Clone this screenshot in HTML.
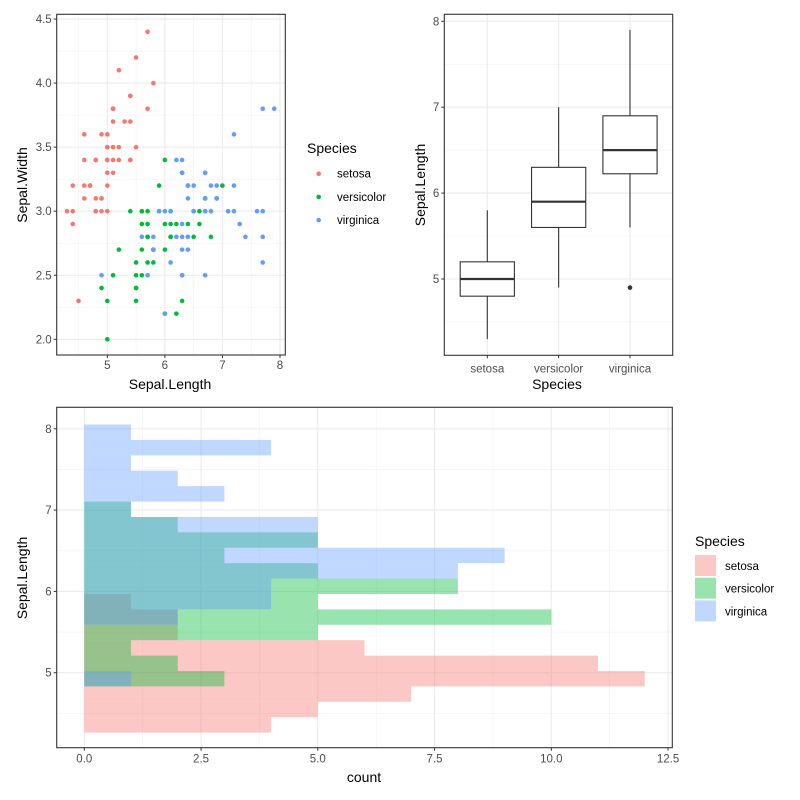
<!DOCTYPE html>
<html><head><meta charset="utf-8"><style>
html,body{margin:0;padding:0;background:#fff;}
svg{display:block;font-family:"Liberation Sans",Arial,sans-serif;}
</style></head><body>
<svg id="s" width="800" height="800" viewBox="0 0 800 800" xmlns="http://www.w3.org/2000/svg"></svg>
<script>
const speciesNames = ["setosa","versicolor","virginica"];
const speciesColors = ["#F8766D","#00BA38","#619CFF"];
const setosaLen = [5.1,4.9,4.7,4.6,5.0,5.4,4.6,5.0,4.4,4.9,5.4,4.8,4.8,4.3,5.8,5.7,5.4,5.1,5.7,5.1,5.4,5.1,4.6,5.1,4.8,5.0,5.0,5.2,5.2,4.7,4.8,5.4,5.2,5.5,4.9,5.0,5.5,4.9,4.4,5.1,5.0,4.5,4.4,5.0,5.1,4.8,5.1,4.6,5.3,5.0];
const setosaWid = [3.5,3.0,3.2,3.1,3.6,3.9,3.4,3.4,2.9,3.1,3.7,3.4,3.0,3.0,4.0,4.4,3.9,3.5,3.8,3.8,3.4,3.7,3.6,3.3,3.4,3.0,3.4,3.5,3.4,3.2,3.1,3.4,4.1,4.2,3.1,3.2,3.5,3.6,3.0,3.4,3.5,2.3,3.2,3.5,3.8,3.0,3.8,3.2,3.7,3.3];
const versiLen = [7.0,6.4,6.9,5.5,6.5,5.7,6.3,4.9,6.6,5.2,5.0,5.9,6.0,6.1,5.6,6.7,5.6,5.8,6.2,5.6,5.9,6.1,6.3,6.1,6.4,6.6,6.8,6.7,6.0,5.7,5.5,5.5,5.8,6.0,5.4,6.0,6.7,6.3,5.6,5.5,5.5,6.1,5.8,5.0,5.6,5.7,5.7,6.2,5.1,5.7];
const versiWid = [3.2,3.2,3.1,2.3,2.8,2.8,3.3,2.4,2.9,2.7,2.0,3.0,2.2,2.9,2.9,3.1,3.0,2.7,2.2,2.5,3.2,2.8,2.5,2.8,2.9,3.0,2.8,3.0,2.9,2.6,2.4,2.4,2.7,2.7,3.0,3.4,3.1,2.3,3.0,2.5,2.6,3.0,2.6,2.3,2.7,3.0,2.9,2.9,2.5,2.8];
const virgLen = [6.3,5.8,7.1,6.3,6.5,7.6,4.9,7.3,6.7,7.2,6.5,6.4,6.8,5.7,5.8,6.4,6.5,7.7,7.7,6.0,6.9,5.6,7.7,6.3,6.7,7.2,6.2,6.1,6.4,7.2,7.4,7.9,6.4,6.3,6.1,7.7,6.3,6.4,6.0,6.9,6.7,6.9,5.8,6.8,6.7,6.7,6.3,6.5,6.2,5.9];
const virgWid = [3.3,2.7,3.0,2.9,3.0,3.0,2.5,2.9,2.5,3.6,3.2,2.7,3.0,2.5,2.8,3.2,3.0,3.8,2.6,2.2,3.2,2.8,2.8,2.7,3.3,3.2,2.8,3.0,2.8,3.0,2.8,3.8,2.8,2.8,2.6,3.0,3.4,3.1,3.0,3.1,3.1,3.1,2.7,3.2,3.3,3.0,2.5,3.0,3.4,3.0];
// boxplot stats
const boxLower = [4.3,4.9,5.6];
const boxQ1 = [4.8,5.6,6.225];
const boxMedian = [5.0,5.9,6.5];
const boxQ3 = [5.2,6.3,6.9];
const boxUpper = [5.8,7.0,7.9];
const boxOutliers = [[],[],[4.9]];
// histogram counts (bins bottom -> top)
const histOrigin = 4.263;
const histWidth = 0.18947;
const histSetosa = [4,5,7,12,11,6,2,2,1,0,0,0,0,0,0,0,0,0,0,0];
const histVersicolor = [0,0,0,3,2,1,5,10,5,8,5,3,5,2,1,0,0,0,0,0];
const histVirginica = [0,0,0,1,0,0,0,2,4,4,8,9,5,5,1,3,2,1,4,1];
const scatterXTicks = [5,6,7,8];
const scatterYTicks = ["2.0","2.5","3.0","3.5","4.0","4.5"];
const boxYTicks = [5,6,7,8];
const histXTicks = ["0.0","2.5","5.0","7.5","10.0","12.5"];
const histYTicks = [5,6,7,8];

const NS="http://www.w3.org/2000/svg";
const svg=document.getElementById('s');
function mk(tag,attrs,parent){const e=document.createElementNS(NS,tag);for(const k in attrs)e.setAttribute(k,attrs[k]);(parent||svg).appendChild(e);return e;}
function txt(x,y,s,size,fill,anchor,rot){const t=mk('text',{x:x,y:y,'font-size':size,fill:fill,'text-anchor':anchor||'middle'});if(rot)t.setAttribute('transform','rotate(-90 '+x+' '+y+')');t.textContent=s;return t;}

// ---------- Scatter ----------
const sc={l:56.7,r:285.3,t:14.3,b:355};
const sx=v=>107.3+(v-5)*57.56;
const sy=v=>339.3-(v-2)*128.1;
const gS=mk('g',{});


[4.5,5.5,6.5,7.5].forEach(v=>mk('line',{x1:sx(v),x2:sx(v),y1:sc.t,y2:sc.b,stroke:'#F2F2F2','stroke-width':0.6},gS));
[2.25,2.75,3.25,3.75,4.25].forEach(v=>mk('line',{x1:sc.l,x2:sc.r,y1:sy(v),y2:sy(v),stroke:'#F2F2F2','stroke-width':0.6},gS));
scatterXTicks.forEach(v=>{mk('line',{x1:sx(v),x2:sx(v),y1:sc.t,y2:sc.b,stroke:'#EBEBEB','stroke-width':1.1},gS);mk('line',{x1:sx(v),x2:sx(v),y1:sc.b,y2:sc.b+3,stroke:'#333'},gS);const t=txt(sx(v),sc.b+14,String(v),11.5,'#4D4D4D');});
scatterYTicks.forEach(s=>{const v=parseFloat(s);mk('line',{x1:sc.l,x2:sc.r,y1:sy(v),y2:sy(v),stroke:'#EBEBEB','stroke-width':1.1},gS);mk('line',{x1:sc.l-3,x2:sc.l,y1:sy(v),y2:sy(v),stroke:'#333'},gS);const t=txt(sc.l-5,sy(v)+4,s,11.5,'#4D4D4D','end');});
[[setosaLen,setosaWid],[versiLen,versiWid],[virgLen,virgWid]].forEach((d,i)=>{d[0].forEach((x,j)=>{const c=mk('circle',{cx:sx(x),cy:sy(d[1][j]),r:2.3,fill:speciesColors[i]},gS);

});});
mk('rect',{x:sc.l,y:sc.t,width:sc.r-sc.l,height:sc.b-sc.t,fill:'none',stroke:'#333','stroke-width':1.1},gS);
let t=txt(170,389,'Sepal.Length',14,'#000');
t=txt(27,185,'Sepal.Width',14,'#000','middle',true);
// scatter legend
t=txt(307,153,'Species',14,'#000','start');
speciesNames.forEach((n,i)=>{const y=173.7+i*23.2;const c=mk('circle',{cx:318.7,cy:y,r:2.3,fill:speciesColors[i]});const l=txt(337,y+4,n,11.5,'#000','start');});

// ---------- Boxplot ----------
const bp={l:444.3,r:672.7,t:14.3,b:355.3};
const by=v=>279-(v-5)*85.9;
const bx=i=>487.3+i*71.35;
const gB=mk('g',{});


[4.5,5.5,6.5,7.5].forEach(v=>mk('line',{x1:bp.l,x2:bp.r,y1:by(v),y2:by(v),stroke:'#F2F2F2','stroke-width':0.6},gB));
boxYTicks.forEach(v=>{mk('line',{x1:bp.l,x2:bp.r,y1:by(v),y2:by(v),stroke:'#EBEBEB','stroke-width':1.1},gB);mk('line',{x1:bp.l-3,x2:bp.l,y1:by(v),y2:by(v),stroke:'#333'},gB);const t=txt(bp.l-5,by(v)+4,String(v),11.5,'#4D4D4D','end');});
speciesNames.forEach((n,i)=>{const x=bx(i);mk('line',{x1:x,x2:x,y1:bp.t,y2:bp.b,stroke:'#EBEBEB','stroke-width':1.1},gB);mk('line',{x1:x,x2:x,y1:bp.b,y2:bp.b+3,stroke:'#333'},gB);const t=txt(x,bp.b+17,n,11.5,'#4D4D4D');});
speciesNames.forEach((n,i)=>{const x=bx(i),w=27.1;const g=mk('g',{},gB);


mk('line',{x1:x,x2:x,y1:by(boxUpper[i]),y2:by(boxQ3[i]),stroke:'#333','stroke-width':1.1},g);
mk('line',{x1:x,x2:x,y1:by(boxQ1[i]),y2:by(boxLower[i]),stroke:'#333','stroke-width':1.1},g);
mk('rect',{x:x-w,y:by(boxQ3[i]),width:2*w,height:by(boxQ1[i])-by(boxQ3[i]),fill:'#fff',stroke:'#333','stroke-width':1.1},g);
mk('line',{x1:x-w,x2:x+w,y1:by(boxMedian[i]),y2:by(boxMedian[i]),stroke:'#333','stroke-width':2.2},g);
boxOutliers[i].forEach(o=>mk('circle',{cx:x,cy:by(o),r:2.3,fill:'#333'},g));});
mk('rect',{x:bp.l,y:bp.t,width:bp.r-bp.l,height:bp.b-bp.t,fill:'none',stroke:'#333','stroke-width':1.1},gB);
t=txt(557,389,'Species',14,'#000');
t=txt(425,185,'Sepal.Length',14,'#000','middle',true);

// ---------- Histogram ----------
const hp={l:56.7,r:672.3,t:407.3,b:747.7};
const hx=v=>84.3+v*46.7;
const hy=v=>672.7-(v-5)*81.3;
const gH=mk('g',{});


[1.25,3.75,6.25,8.75,11.25].forEach(v=>mk('line',{x1:hx(v),x2:hx(v),y1:hp.t,y2:hp.b,stroke:'#F2F2F2','stroke-width':0.6},gH));
[4.5,5.5,6.5,7.5].forEach(v=>mk('line',{x1:hp.l,x2:hp.r,y1:hy(v),y2:hy(v),stroke:'#F2F2F2','stroke-width':0.6},gH));
histXTicks.forEach(s=>{const v=parseFloat(s);mk('line',{x1:hx(v),x2:hx(v),y1:hp.t,y2:hp.b,stroke:'#EBEBEB','stroke-width':1.1},gH);mk('line',{x1:hx(v),x2:hx(v),y1:hp.b,y2:hp.b+3,stroke:'#333'},gH);const t=txt(hx(v),hp.b+15,s,11.5,'#4D4D4D');});
histYTicks.forEach(v=>{mk('line',{x1:hp.l,x2:hp.r,y1:hy(v),y2:hy(v),stroke:'#EBEBEB','stroke-width':1.1},gH);mk('line',{x1:hp.l-3,x2:hp.l,y1:hy(v),y2:hy(v),stroke:'#333'},gH);const t=txt(hp.l-5,hy(v)+4,String(v),11.5,'#4D4D4D','end');});
[histSetosa,histVersicolor,histVirginica].forEach((arr,i)=>{arr.forEach((c,k)=>{if(!c)return;const y0=histOrigin+k*histWidth,y1=y0+histWidth;const r=mk('rect',{x:hx(0),y:hy(y1),width:hx(c)-hx(0),height:hy(y0)-hy(y1),fill:speciesColors[i],'fill-opacity':0.4},gH);

});});
mk('rect',{x:hp.l,y:hp.t,width:hp.r-hp.l,height:hp.b-hp.t,fill:'none',stroke:'#333','stroke-width':1.1},gH);
t=txt(364,782,'count',14,'#000');
t=txt(27,578,'Sepal.Length',14,'#000','middle',true);
t=txt(695,546,'Species',14,'#000','start');
speciesNames.forEach((n,i)=>{const y=555+i*22.7;const r=mk('rect',{x:695,y:y,width:21,height:21,fill:speciesColors[i],'fill-opacity':0.4});const l=txt(725,y+15,n,11.5,'#000','start');});
</script>
</body></html>
